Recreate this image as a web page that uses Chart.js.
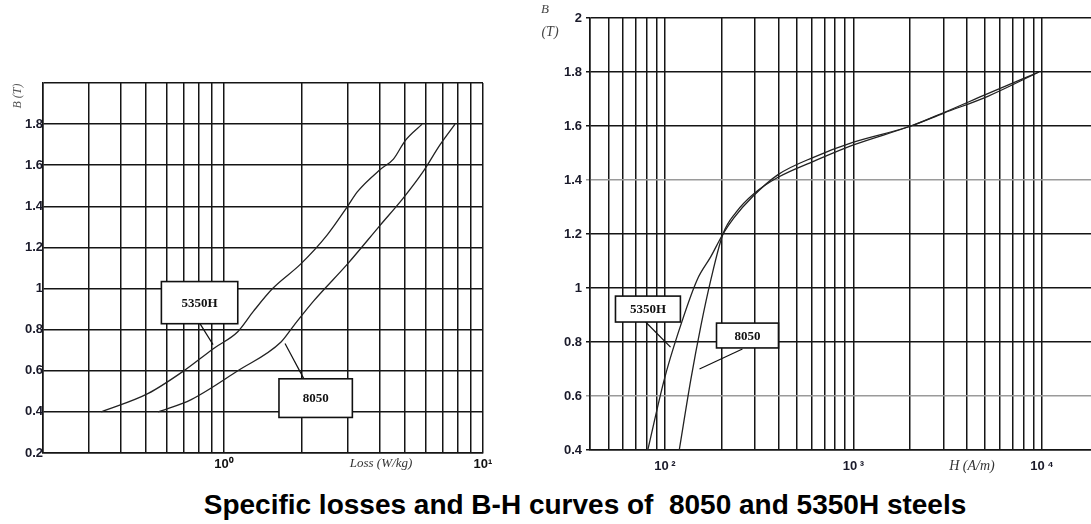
<!DOCTYPE html>
<html>
<head>
<meta charset="utf-8">
<script src="https://cdn.jsdelivr.net/npm/chart.js@4.4.1/dist/chart.umd.min.js"></script>
<style>
  html,body{margin:0;padding:0;background:#fff;}
  #wrap{position:relative;width:1091px;height:524px;overflow:hidden;background:#fff;}
  canvas{position:absolute;top:0;}
  #title{position:absolute;left:0;width:1170px;top:489px;text-align:center;
    font:bold 28px "Liberation Sans", Arial, sans-serif;color:#000;white-space:pre;}
</style>
</head>
<body>
<div id="wrap">
  <canvas id="c1" width="500" height="480" style="left:0"></canvas>
  <canvas id="c2" width="571" height="480" style="left:520px"></canvas>
  <div id="title">Specific losses and B-H curves of  8050 and 5350H steels</div>
</div>
<script>
// ---------- DATA ----------
// Left chart: specific loss (W/kg) vs B (T)
const loss5350H = [0.336, 0.51, 0.70, 0.915, 1.13, 1.30, 1.54, 1.98, 2.5, 3.0, 3.27, 4.02, 4.51, 5.01, 5.82];
const lossB5350H = [0.40, 0.49, 0.60, 0.71, 0.79, 0.89, 1.00, 1.12, 1.26, 1.40, 1.47, 1.58, 1.63, 1.72, 1.80];
const loss8050 = [0.557, 0.747, 1.13, 1.66, 1.86, 2.22, 3.0, 4.02, 4.92, 5.88, 6.83, 7.8];
const lossB8050 = [0.40, 0.46, 0.60, 0.74, 0.82, 0.94, 1.12, 1.31, 1.44, 1.57, 1.70, 1.80];
const lossTicks = [0.2, 0.3, 0.4, 0.5, 0.6, 0.7, 0.8, 0.9, 1, 2, 3, 4, 5, 6, 7, 8, 9, 10];
const lossTickLabels = {1: "10\u2070", 10: "10\u00b9"};

// Right chart: H (A/m) vs B (T)
const H5350H = [81, 99, 117, 148, 175, 203, 232, 293, 398, 618, 1000, 2018, 3020, 5160, 9640];
const HB5350H = [0.40, 0.66, 0.83, 1.03, 1.116, 1.20, 1.26, 1.34, 1.42, 1.485, 1.54, 1.60, 1.65, 1.72, 1.80];
const H8050 = [119, 137, 155, 175, 203, 238, 297, 398, 618, 1000, 2018, 3020, 5160, 9640];
const HB8050 = [0.40, 0.66, 0.86, 1.03, 1.20, 1.28, 1.35, 1.41, 1.47, 1.53, 1.60, 1.648, 1.71, 1.80];
const hTicks = [40, 50, 60, 70, 80, 90, 100, 200, 300, 400, 500, 600, 700, 800, 900, 1000, 2000, 3000, 4000, 5000, 6000, 7000, 8000, 9000, 10000];
const hTickLabels = {100: "10\u2009\u00b2", 1000: "10\u2009\u00b3", 10000: "10\u2009\u2074"};

// label boxes (data coordinates)
const leftBoxes = [
  {text: "5350H", x0: 0.573, x1: 1.13, y0: 1.034, y1: 0.829, lx0: 0.794, ly0: 0.844, lx1: 0.907, ly1: 0.727},
  {text: "8050", x0: 1.63, x1: 3.13, y0: 0.561, y1: 0.373, lx0: 1.72, ly0: 0.733, lx1: 2.03, ly1: 0.563}
];
const rightBoxes = [
  {text: "5350H", x0: 54.6, x1: 120.7, y0: 0.970, y1: 0.874, lx0: 78.9, ly0: 0.874, lx1: 107, ly1: 0.781},
  {text: "8050", x0: 187.6, x1: 400, y0: 0.870, y1: 0.778, lx0: 257.5, ly0: 0.774, lx1: 152.4, ly1: 0.70}
];

// ---------- HELPERS ----------
const GRID = '#151515';
const TICKFONT = {family: '"Liberation Sans", Arial, sans-serif', size: 13, weight: 'bold'};
function pts(xs, ys){ return xs.map((x,i)=>({x:x, y:ys[i]})); }
function fmtB(v){ let s = (Math.round(v*10)/10).toFixed(1); return s.endsWith('.0') ? s.slice(0,-2) : s; }

const boxPlugin = {
  id: 'boxes',
  afterDatasetsDraw(chart, args, opts){
    const c = chart.ctx, xs = chart.scales.x, ys = chart.scales.y;
    c.save();
    (opts.items||[]).forEach(b=>{
      const X0 = xs.getPixelForValue(b.x0), X1 = xs.getPixelForValue(b.x1);
      const Y0 = ys.getPixelForValue(b.y0), Y1 = ys.getPixelForValue(b.y1);
      c.strokeStyle = '#111'; c.lineWidth = 1.2;
      c.beginPath();
      c.moveTo(xs.getPixelForValue(b.lx0), ys.getPixelForValue(b.ly0));
      c.lineTo(xs.getPixelForValue(b.lx1), ys.getPixelForValue(b.ly1));
      c.stroke();
      c.fillStyle = '#fff';
      c.fillRect(X0, Y0, X1-X0, Y1-Y0);
      c.lineWidth = 1.6;
      c.strokeRect(X0, Y0, X1-X0, Y1-Y0);
      c.fillStyle = '#111';
      c.font = 'bold 13px "Liberation Serif", "Times New Roman", serif';
      c.textAlign = 'center'; c.textBaseline = 'middle';
      c.fillText(b.text, (X0+X1)/2, (Y0+Y1)/2 + 1);
    });
    (opts.texts||[]).forEach(t=>{
      c.save();
      c.fillStyle = t.color || '#222';
      c.font = t.font;
      c.textAlign = t.align || 'center'; c.textBaseline = 'middle';
      c.translate(t.x, t.y);
      if (t.rot) c.rotate(t.rot);
      c.fillText(t.text, 0, 0);
      c.restore();
    });
    c.restore();
  }
};

function lineDs(label, data){
  return {label, data, showLine: true, borderColor: '#222', borderWidth: 1.3,
    pointRadius: 0, fill: false, cubicInterpolationMode: 'monotone'};
}

// ---------- LEFT CHART ----------
new Chart(document.getElementById('c1'), {
  type: 'scatter',
  data: {datasets: [lineDs('5350H', pts(loss5350H, lossB5350H)), lineDs('8050', pts(loss8050, lossB8050))]},
  options: {
    responsive: false, animation: false,
    layout: {padding: {top: 83, right: 17, left: 0, bottom: 0}},
    plugins: {
      legend: {display: false}, tooltip: {enabled: false},
      boxes: {
        items: leftBoxes,
        texts: [
          {text: 'Loss (W/kg)', x: 381, y: 464, font: 'italic 13px "Liberation Serif", serif', color: '#333'},
          {text: 'B (T)', x: 18, y: 96, rot: -Math.PI/2, font: 'italic 12px "Liberation Serif", serif', color: '#555'}
        ]
      }
    },
    scales: {
      x: {
        type: 'logarithmic', min: 0.2, max: 10,
        afterBuildTicks(s){ s.ticks = lossTicks.map(v=>({value: v})); },
        afterFit(s){ s.height = 27; },
        grid: {color: GRID, lineWidth: 1.5, drawTicks: false},
        border: {color: GRID, width: 1.5},
        ticks: {autoSkip: false, maxRotation: 0, padding: 4, color: '#111', font: TICKFONT,
          callback: (v)=> lossTickLabels[v] || ''}
      },
      y: {
        type: 'linear', min: 0.2, max: 2.0,
        ticks: {stepSize: 0.2, padding: 0, color: '#1a1a2a', font: TICKFONT,
          callback: (v)=> Math.abs(v-2) < 1e-6 ? '' : fmtB(v)},
        afterFit(s){ s.width = 43; },
        grid: {color: GRID, lineWidth: 1.5, drawTicks: false},
        border: {color: GRID, width: 1.5}
      }
    }
  },
  plugins: [boxPlugin]
});

// ---------- RIGHT CHART ----------
new Chart(document.getElementById('c2'), {
  type: 'scatter',
  data: {datasets: [lineDs('5350H', pts(H5350H, HB5350H)), lineDs('8050', pts(H8050, HB8050))]},
  options: {
    responsive: false, animation: false,
    layout: {padding: {top: 18, right: 0, left: 0, bottom: 0}},
    plugins: {
      legend: {display: false}, tooltip: {enabled: false},
      boxes: {
        items: rightBoxes,
        texts: [
          {text: 'H (A/m)', x: 452, y: 466, font: 'italic 14px "Liberation Serif", serif', color: '#333'},
          {text: 'B', x: 25, y: 10, font: 'italic 13px "Liberation Serif", serif', color: '#444'},
          {text: '(T)', x: 30, y: 32, font: 'italic 14px "Liberation Serif", serif', color: '#444'}
        ]
      }
    },
    scales: {
      x: {
        type: 'logarithmic', min: 40, max: 18200,
        afterBuildTicks(s){ s.ticks = hTicks.map(v=>({value: v})); },
        afterFit(s){ s.height = 30; },
        grid: {color: GRID, lineWidth: 1.5, drawTicks: false},
        border: {color: GRID, width: 1.5},
        ticks: {autoSkip: false, maxRotation: 0, padding: 9, color: '#1a1a2a', font: TICKFONT,
          callback: (v)=> hTickLabels[v] || ''}
      },
      y: {
        type: 'linear', min: 0.4, max: 2.0,
        ticks: {stepSize: 0.2, padding: 4, color: '#1a1a2a', font: TICKFONT,
          callback: (v)=> fmtB(v)},
        afterFit(s){ s.width = 70; },
        grid: {
          lineWidth: 1.5, tickLength: 4,
          color: (ctx)=> {
            const v = ctx.tick ? ctx.tick.value : 0;
            return (Math.abs(v-1.4) < 1e-6 || Math.abs(v-0.6) < 1e-6) ? '#9a9a9a' : GRID;
          }
        },
        border: {color: GRID, width: 1.5}
      }
    }
  },
  plugins: [boxPlugin]
});
</script>
</body>
</html>
